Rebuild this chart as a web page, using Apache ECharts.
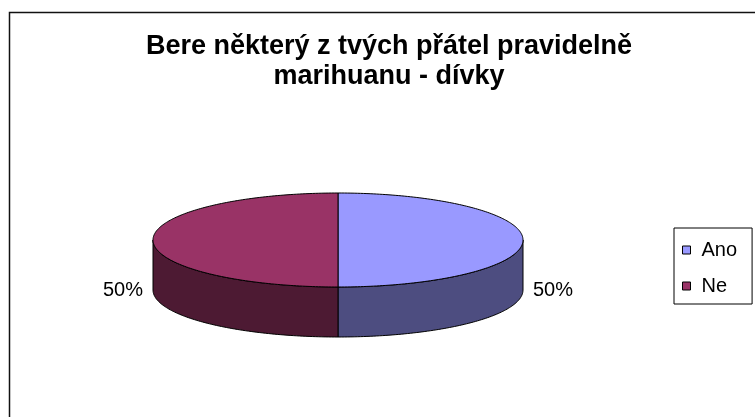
<!DOCTYPE html>
<html>
<head>
<meta charset="utf-8">
<script src="https://cdn.jsdelivr.net/npm/echarts@6/dist/echarts.min.js"></script>
<style>
  html, body { margin: 0; padding: 0; background: #fff; overflow: hidden; }
  #chart { width: 755px; height: 417px; }
</style>
</head>
<body>
<div id="chart"></div>
<script>
const categories = ['Ano', 'Ne'];
const values = [50, 50];
const topColors = ['#9999FF', '#993366'];
const sideColors = ['#4D4D80', '#4D1A33'];
const titleText = 'Bere některý z tvých přátel pravidelně\nmarihuanu - dívky';

const FONT = '"Liberation Sans", Arial, sans-serif';
// tilted-pie geometry in pixels
const PIE = { cx: 338, cy: 240, rx: 185, ry: 47, depth: 50, labelGap: 10 };

const total = values.reduce((a, b) => a + b, 0);

function renderSlice(params, api) {
  const idx = api.value(0);
  const val = api.value(1);
  let start = 0;
  for (let k = 0; k < idx; k++) start += values[k];
  // angles run clockwise from 12 o'clock
  const a0 = start / total * 2 * Math.PI;
  const a1 = (start + val) / total * 2 * Math.PI;
  const pt = (a, dy) => [PIE.cx + PIE.rx * Math.sin(a), PIE.cy - PIE.ry * Math.cos(a) + dy];
  const arc = (s, e, dy) => {
    const n = Math.max(2, Math.ceil((e - s) / (2 * Math.PI) * 360));
    const out = [];
    for (let j = 0; j <= n; j++) out.push(pt(s + (e - s) * j / n, dy));
    return out;
  };
  const children = [];
  // visible outer wall: the front half of the rim
  const f0 = Math.max(a0, Math.PI / 2);
  const f1 = Math.min(a1, 3 * Math.PI / 2);
  if (f1 > f0) {
    const upper = arc(f0, f1, 0);
    const lower = arc(f0, f1, PIE.depth).reverse();
    children.push({
      type: 'polygon',
      shape: { points: upper.concat(lower) },
      style: { fill: sideColors[idx], stroke: '#000', lineWidth: 1 }
    });
  }
  // top face
  children.push({
    type: 'polygon',
    shape: { points: [[PIE.cx, PIE.cy]].concat(arc(a0, a1, 0)) },
    style: { fill: topColors[idx], stroke: '#000', lineWidth: 1 }
  });
  // percentage label beside the slice
  const mid = (a0 + a1) / 2;
  const s = Math.sin(mid);
  const side = s >= 0 ? 1 : -1;
  children.push({
    type: 'text',
    x: PIE.cx + (PIE.rx + PIE.labelGap) * side,
    y: PIE.cy - PIE.ry * Math.cos(mid) + PIE.depth,
    style: {
      text: Math.round(val / total * 100) + '%',
      fill: '#000',
      font: '20px ' + FONT,
      align: side > 0 ? 'left' : 'right',
      verticalAlign: 'middle'
    }
  });
  return { type: 'group', children };
}

const chart = echarts.init(document.getElementById('chart'), null, { renderer: 'canvas' });
chart.setOption({
  animation: false,
  backgroundColor: '#fff',
  title: {
    text: titleText,
    left: 384,
    top: 27,
    textAlign: 'center',
    textStyle: { fontSize: 27, fontWeight: 'bold', fontFamily: FONT, color: '#000', lineHeight: 30 }
  },
  legend: {
    orient: 'vertical',
    left: 674,
    top: 228,
    data: categories,
    icon: 'rect',
    itemWidth: 8,
    itemHeight: 8,
    itemGap: 16,
    padding: [12, 15, 8, 8],
    borderColor: '#000',
    borderWidth: 1,
    selectedMode: false,
    itemStyle: { borderColor: '#000', borderWidth: 1 },
    textStyle: { fontSize: 20, color: '#000', fontFamily: FONT, padding: [0, 0, 0, 6] }
  },
  graphic: [{
    type: 'rect',
    silent: true,
    z: -10,
    shape: { x: 9.5, y: 12.5, width: 800, height: 500 },
    style: { fill: 'none', stroke: '#111', lineWidth: 1.5 }
  }],
  series: categories.map((name, i) => ({
    type: 'custom',
    name: name,
    coordinateSystem: 'none',
    itemStyle: { color: topColors[i], borderColor: '#000', borderWidth: 1 },
    data: [[i, values[i]]],
    renderItem: renderSlice
  }))
});
</script>
</body>
</html>
